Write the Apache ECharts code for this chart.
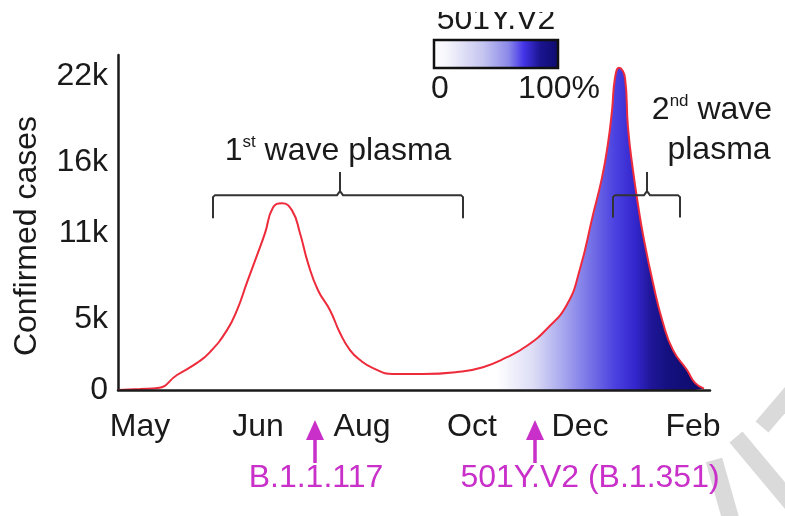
<!DOCTYPE html>
<html><head><meta charset="utf-8">
<script src="https://cdn.jsdelivr.net/npm/echarts@6/dist/echarts.min.js"></script>
<style>html,body{margin:0;padding:0;background:#fff}#c{width:785px;height:516px}</style>
</head><body><div id="c"></div>
<script>
// ---- data (x = day index from start of May, y = daily confirmed cases) ----
const days = [0, 11, 20, 29.5, 39.5, 46, 54.5, 59.5, 64.5, 69.5, 73.5, 77.5, 82, 87, 91, 95, 100, 106, 111, 116, 121, 127.5, 137.5, 152.5, 169.5, 182.5, 194.5, 204.5, 214.5, 224.5, 231, 237.5, 242, 245, 247, 248.5, 250.5, 253.5, 255, 257.5, 260, 262.5, 267.5, 272.5, 277.5, 284.5, 288.5, 293];
const cases = [0, 70, 140, 1050, 1900, 2660, 4200, 5600, 7550, 9450, 11000, 12800, 13100, 12600, 11000, 8900, 7000, 5600, 4000, 2800, 2100, 1540, 1120, 1120, 1260, 1600, 2300, 3100, 4300, 6000, 8500, 12300, 14900, 17300, 19600, 21900, 22600, 21900, 18400, 15400, 13000, 10900, 7500, 4700, 2800, 1400, 500, 100];
const variantStartDay = 180;           // 501Y.V2 fill starts (0%)

const yTickValues = [0, 5000, 11000, 16000, 22000];
const yTickLabels = ['0', '5k', '11k', '16k', '22k'];
const monthDays = [11, 70, 122, 177, 231, 287.5];
const monthLabels = ['May', 'Jun', 'Aug', 'Oct', 'Dec', 'Feb'];

const arrowDays = [98.5, 208.5];
const arrowLabels = ['B.1.1.117', '501Y.V2 (B.1.351)'];
const arrowLabelDays = [99, 236];

// brackets: [leftDay, centerDay, rightDay, barValue, endValue, tipValue]
const brackets = [[47.5, 111, 172.5, 13670, 12050, 15300], [247.5, 264.5, 281, 13670, 12100, 15300]];

const FONT = '"Liberation Sans", Arial, sans-serif';
const MAG = '#c92fc9';
const fillStops = [
  [0, '#ffffff'], [0.06, '#ffffff'], [0.23, '#dcdcf6'], [0.36, '#a8a8ee'], [0.49, '#7470e6'],
  [0.6, '#4a40e0'], [0.69, '#3326cc'], [0.76, '#1f1698'], [0.84, '#14107e'], [1, '#0e0b6c']];
const barStops = [
  [0, '#ffffff'], [0.12, '#f4f4fc'], [0.4, '#c4c4f0'], [0.6, '#8a88e8'], [0.72, '#4434e8'],
  [0.85, '#1a1490'], [1, '#0e0b6c']];

const lineData = days.map((d, i) => [d, cases[i]]);
const fillData = lineData.filter(p => p[0] >= variantStartDay);

const chart = echarts.init(document.getElementById('c'), null, {renderer: 'canvas'});
const grad = (stops) => new echarts.graphic.LinearGradient(0, 0, 1, 0, stops.map(s => ({offset: s[0], color: s[1]})));

chart.setOption({
  animation: false,
  backgroundColor: '#ffffff',
  grid: {left: 118, right: 75, top: 55, bottom: 126},
  xAxis: {
    type: 'value', min: 0, max: 296, z: 5,
    axisLine: {lineStyle: {color: '#1a1a1a', width: 2.5}},
    axisTick: {show: false}, splitLine: {show: false},
    axisLabel: {customValues: monthDays, margin: 21, color: '#1a1a1a', fontSize: 32, fontFamily: FONT,
      formatter: v => monthLabels[monthDays.indexOf(v)] || ''}
  },
  yAxis: {
    type: 'value', min: 0, max: 23500,
    axisLine: {show: true, lineStyle: {color: '#1a1a1a', width: 2.5}},
    axisTick: {show: false}, splitLine: {show: false},
    axisLabel: {customValues: yTickValues, margin: 10, color: '#1a1a1a', fontSize: 32, fontFamily: FONT,
      formatter: v => yTickLabels[yTickValues.indexOf(v)]}
  },
  series: [
    {type: 'line', data: fillData, smooth: 0.5, showSymbol: false, z: 2,
     lineStyle: {width: 0}, areaStyle: {color: grad(fillStops), opacity: 1}},
    {type: 'line', data: lineData, smooth: 0.5, showSymbol: false, z: 3,
     lineStyle: {color: '#ee2b3b', width: 2}}
  ]
});

function px(d, v) { return chart.convertToPixel({gridIndex: 0}, [d, v]); }
const base = px(0, 0)[1];
const g = [];

// y-axis title
g.push({type: 'text', x: 27, y: 236, rotation: Math.PI / 2,
  style: {text: 'Confirmed cases', font: '32px ' + FONT, fill: '#1a1a1a', align: 'center', verticalAlign: 'middle'}});

// brackets
brackets.forEach(b => {
  const L = px(b[0], b[3]), C = px(b[1], b[3]), R = px(b[2], b[3]);
  const yEnd = px(0, b[4])[1], yTip = px(0, b[5])[1];
  const y = L[1];
  g.push({type: 'polyline', shape: {points: [[L[0], yEnd], [L[0], y + 2], [L[0] + 2, y], [C[0] - 3, y], [C[0], y - 4], [C[0], yTip]]},
    style: {fill: null, stroke: '#333333', lineWidth: 2}, z: 10});
  g.push({type: 'polyline', shape: {points: [[C[0], y - 4], [C[0] + 3, y], [R[0] - 2, y], [R[0], y + 2], [R[0], yEnd]]},
    style: {fill: null, stroke: '#333333', lineWidth: 2}, z: 10});
});

// annotation texts
const rich = {n: {fontSize: 32, fontFamily: FONT, fill: '#1a1a1a', lineHeight: 34}, s: {fontSize: 17, fontFamily: FONT, fill: '#1a1a1a', verticalAlign: 'top', lineHeight: 34}};
const t1 = px(111, 0)[0];
g.push({type: 'text', x: t1 - 2, y: 151, style: {text: '{n|1}{s|st}{n| wave plasma}', rich, align: 'center', verticalAlign: 'middle'}, z: 10});
g.push({type: 'text', x: 712, y: 110, style: {text: '{n|2}{s|nd}{n| wave}', rich, align: 'center', verticalAlign: 'middle'}, z: 10});
g.push({type: 'text', x: 719, y: 150, style: {text: 'plasma', font: '32px ' + FONT, fill: '#1a1a1a', align: 'center', verticalAlign: 'middle'}, z: 10});

// arrows + variant labels
arrowDays.forEach((d, i) => {
  const x = px(d, 0)[0];
  g.push({type: 'polygon', shape: {points: [[x, base + 30], [x - 9, base + 50], [x + 9, base + 50]]}, style: {fill: MAG}, z: 10});
  g.push({type: 'line', shape: {x1: x, y1: base + 45, x2: x, y2: base + 73}, style: {stroke: MAG, lineWidth: 3.5}, z: 10});
  const lx = px(arrowLabelDays[i], 0)[0];
  g.push({type: 'text', x: lx, y: base + 88, style: {text: arrowLabels[i], font: '32px ' + FONT, fill: MAG, align: 'center', verticalAlign: 'middle'}, z: 10});
});

// colour bar legend
g.push({type: 'text', x: 496, y: 20, style: {text: '501Y.V2', font: '32px ' + FONT, fill: '#1a1a1a', align: 'center', verticalAlign: 'middle'}, z: 10});
g.push({type: 'rect', shape: {x: 0, y: 0, width: 785, height: 12}, style: {fill: '#ffffff'}, z: 11});
g.push({type: 'rect', shape: {x: 434, y: 40, width: 124, height: 28}, style: {fill: grad(barStops), stroke: '#111111', lineWidth: 2.5}, z: 10});
g.push({type: 'text', x: 440, y: 89, style: {text: '0', font: '32px ' + FONT, fill: '#1a1a1a', align: 'center', verticalAlign: 'middle'}, z: 10});
g.push({type: 'text', x: 559, y: 89, style: {text: '100%', font: '32px ' + FONT, fill: '#1a1a1a', align: 'center', verticalAlign: 'middle'}, z: 10});

// watermark strokes
[[[762, 427], [792, 392]], [[736, 437], [792, 504]], [[714, 460], [731, 520]]].forEach(s => {
  g.push({type: 'line', shape: {x1: s[0][0], y1: s[0][1], x2: s[1][0], y2: s[1][1]}, style: {stroke: '#dadada', lineWidth: 17}, z: 0});
});

chart.setOption({graphic: g});
</script></body></html>
